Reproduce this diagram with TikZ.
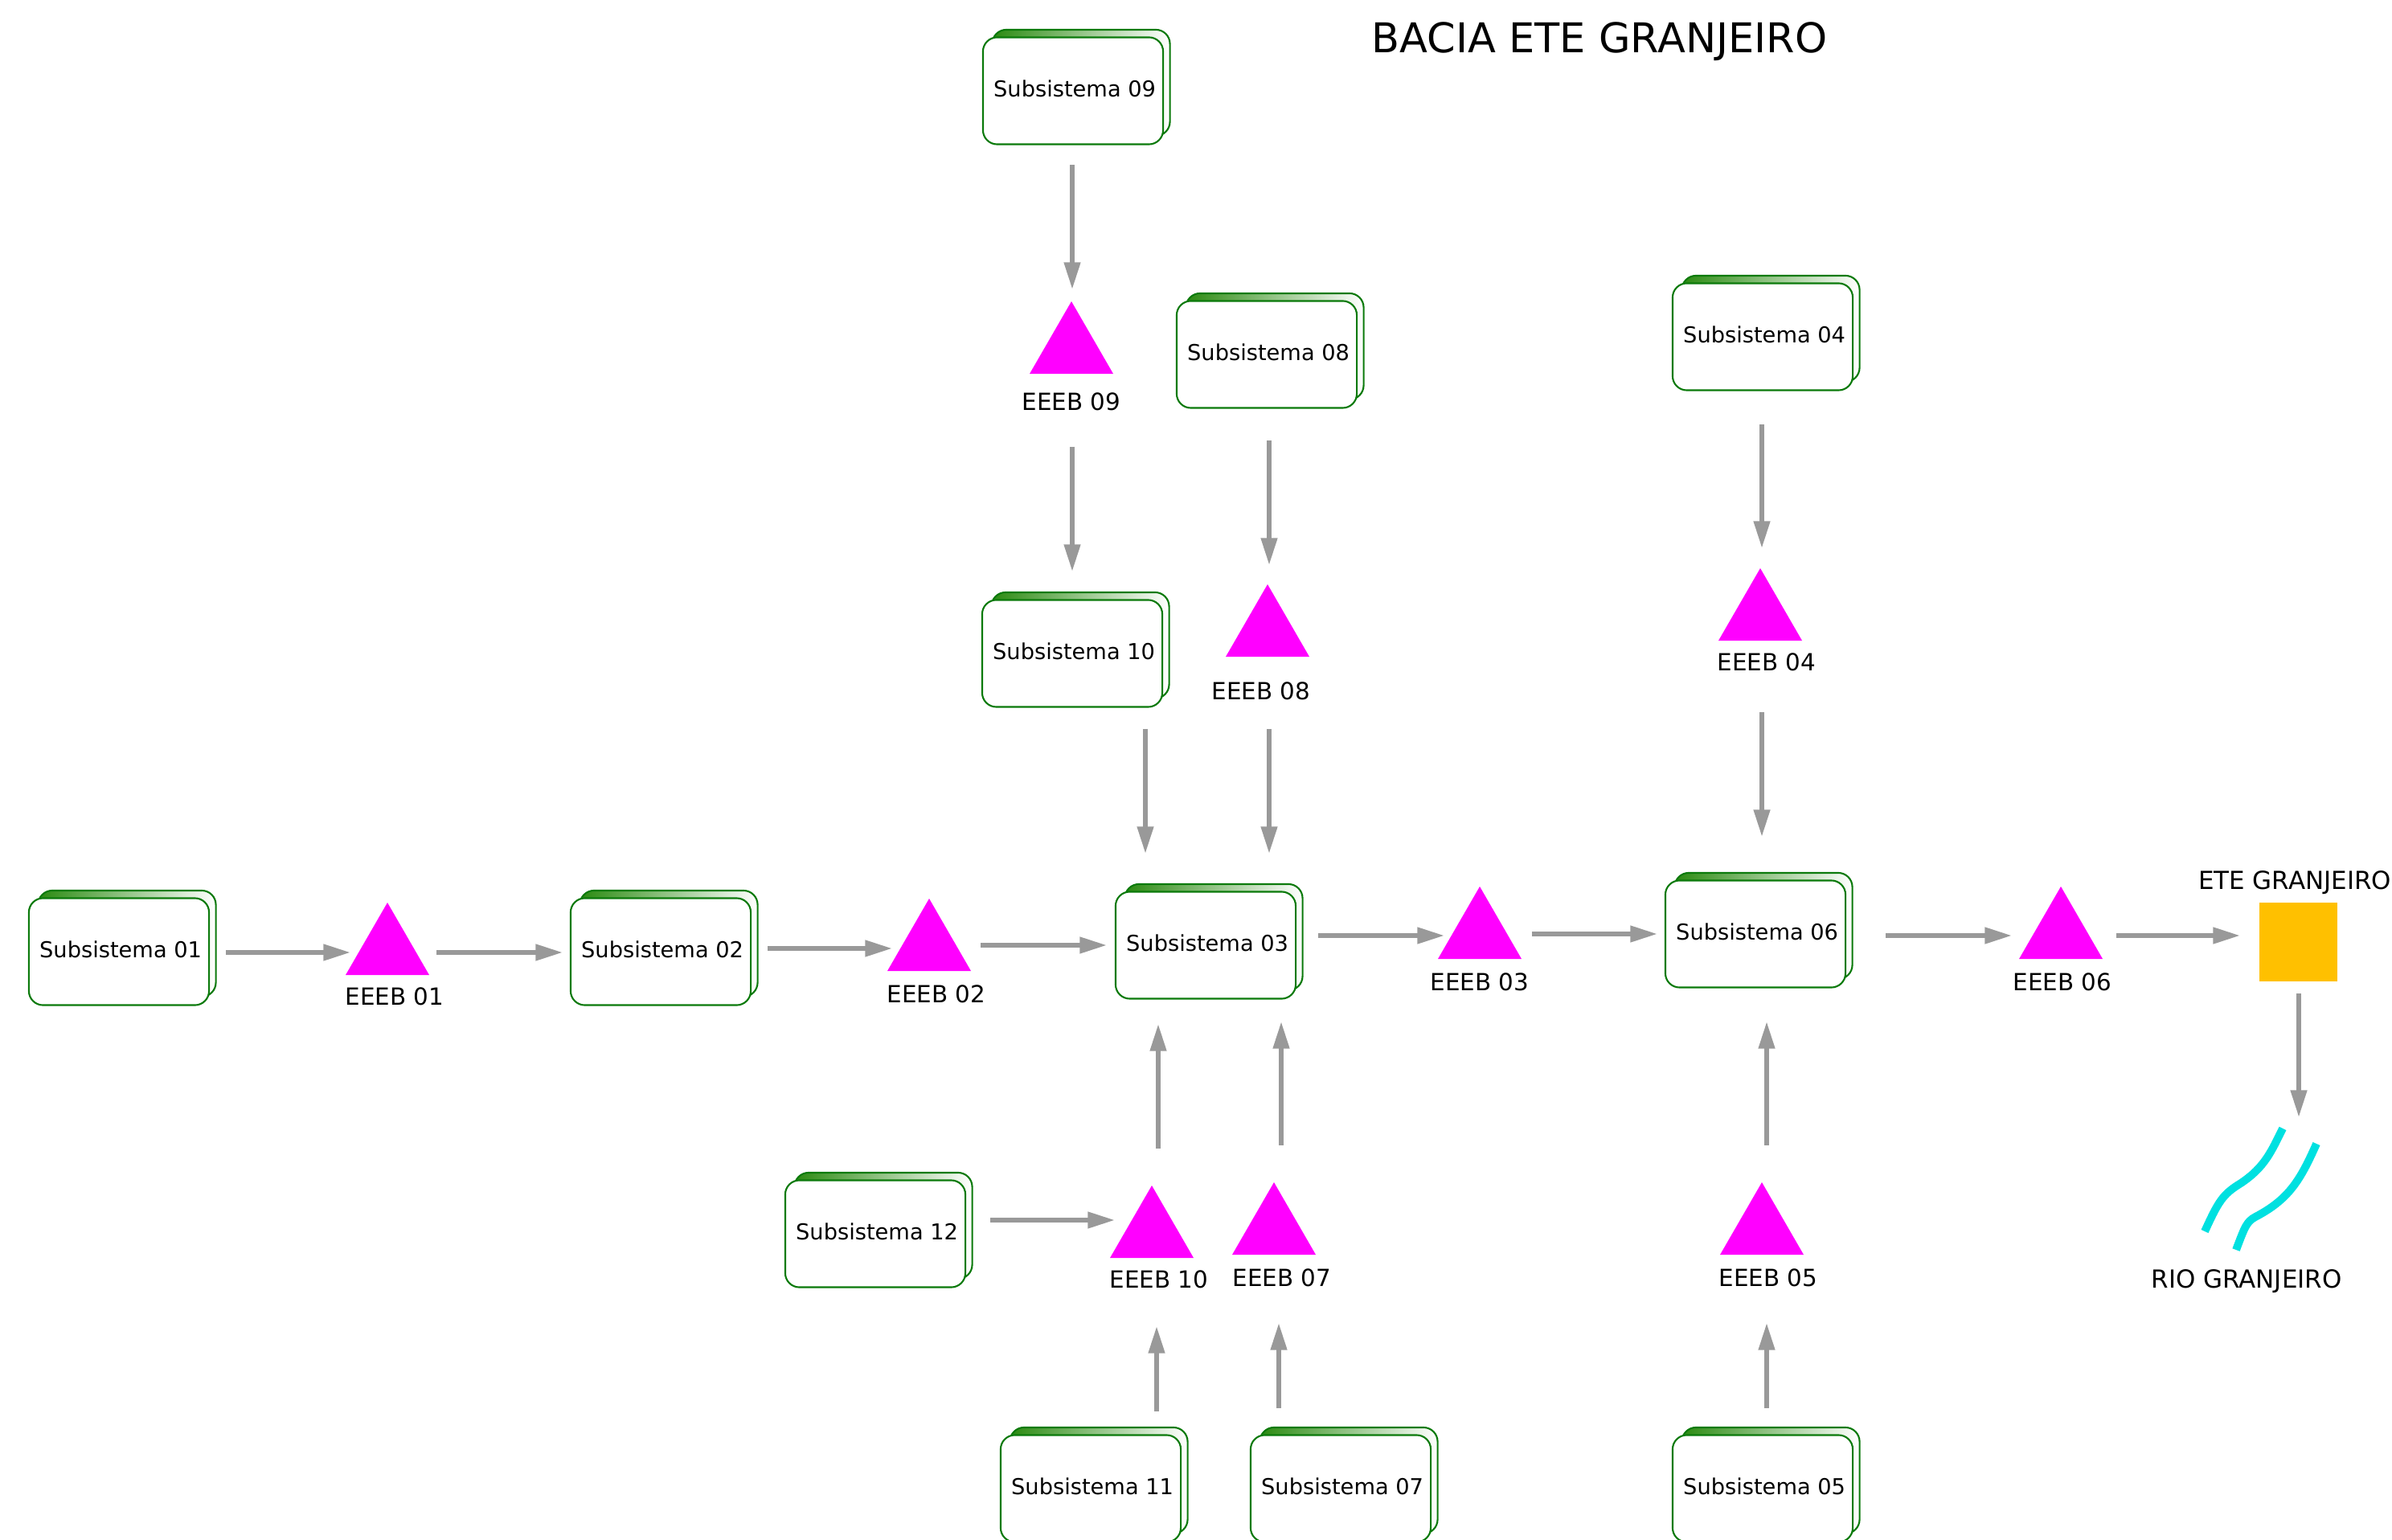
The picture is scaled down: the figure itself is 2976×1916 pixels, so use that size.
\documentclass[tikz,border=0pt]{standalone}
\usepackage{xcolor}
\usepackage{fontspec}
\setmainfont{DejaVu Sans}
\usetikzlibrary{shapes.geometric}
\usetikzlibrary{arrows.meta}

\definecolor{boxgreen}{HTML}{0B7A0B}
\definecolor{bandgreen}{HTML}{2A8A10}
\definecolor{flowgray}{HTML}{999999}
\definecolor{pumppink}{HTML}{FF00FF}
\definecolor{plantyellow}{HTML}{FFC000}
\definecolor{rivercyan}{HTML}{00E0E0}

\tikzset{
  subback/.style={draw=boxgreen, line width=0.6pt, rounded corners=5pt, left color=bandgreen, right color=white, minimum width=2.21cm, minimum height=1.32cm, inner sep=0pt, outer sep=0pt},
  subfront/.style={draw=boxgreen, line width=0.6pt, rounded corners=5pt, fill=white, text=black, font=\fontsize{7.75}{9}\selectfont, execute at begin node=\hspace*{1.2pt}, text depth=1.4pt, minimum width=2.24cm, minimum height=1.33cm, inner sep=0pt, outer sep=0pt},
  pump/.style={regular polygon, regular polygon sides=3, fill=pumppink, minimum size=1.2cm, inner sep=0pt, outer sep=0pt},
  pumplabel/.style={font=\fontsize{8.35}{10}\selectfont, inner sep=0pt},
  placelabel/.style={font=\fontsize{8.8}{10}\selectfont, inner sep=0pt},
  flowline/.style={draw=flowgray, line width=1.5pt, shorten >=-0.8pt, -{Triangle[length=9.5pt,width=5.6pt]}},
  riverline/.style={draw=rivercyan, line width=2.8pt}
}

\begin{document}
\begin{tikzpicture}[x=0.01cm,y=-0.01cm]
    \useasboundingbox (0,0) rectangle (2976,1916);

    \node[font=\fontsize{14.5}{17}\selectfont, inner sep=0pt] (title) at (1990,52) {BACIA ETE GRANJEIRO};

    \node[subback] (sub01b) at (158,1174) {};
    \node[subfront] (sub01) at (148,1184) {Subsistema 01};
    \node[subback] (sub02b) at (832,1174) {};
    \node[subfront] (sub02) at (822,1184) {Subsistema 02};
    \node[subback] (sub03b) at (1510,1166) {};
    \node[subfront] (sub03) at (1500,1176) {Subsistema 03};
    \node[subback] (sub04b) at (2203,409) {};
    \node[subfront] (sub04) at (2193,419) {Subsistema 04};
    \node[subback] (sub05b) at (2203,1842) {};
    \node[subfront] (sub05) at (2193,1852) {Subsistema 05};
    \node[subback] (sub06b) at (2194,1152) {};
    \node[subfront] (sub06) at (2184,1162) {Subsistema 06};
    \node[subback] (sub07b) at (1678,1842) {};
    \node[subfront] (sub07) at (1668,1852) {Subsistema 07};
    \node[subback] (sub08b) at (1586,431) {};
    \node[subfront] (sub08) at (1576,441) {Subsistema 08};
    \node[subback] (sub09b) at (1345,103) {};
    \node[subfront] (sub09) at (1335,113) {Subsistema 09};
    \node[subback] (sub10b) at (1344,803) {};
    \node[subfront] (sub10) at (1334,813) {Subsistema 10};
    \node[subback] (sub11b) at (1367,1842) {};
    \node[subfront] (sub11) at (1357,1852) {Subsistema 11};
    \node[subback] (sub12b) at (1099,1525) {};
    \node[subfront] (sub12) at (1089,1535) {Subsistema 12};

    \node[pump] (eeeb01) at (482,1183) {};
    \node[pump] (eeeb02) at (1156,1178) {};
    \node[pump] (eeeb03) at (1841,1163) {};
    \node[pump] (eeeb04) at (2190,767) {};
    \node[pump] (eeeb05) at (2192,1531) {};
    \node[pump] (eeeb06) at (2564,1163) {};
    \node[pump] (eeeb07) at (1585,1531) {};
    \node[pump] (eeeb08) at (1577,787) {};
    \node[pump] (eeeb09) at (1333,435) {};
    \node[pump] (eeeb10) at (1433,1535) {};

    \node[pumplabel] (lab01) at (491,1240) {EEEB 01};
    \node[pumplabel] (lab02) at (1165,1237) {EEEB 02};
    \node[pumplabel] (lab03) at (1841,1222) {EEEB 03};
    \node[pumplabel] (lab04) at (2198,824) {EEEB 04};
    \node[pumplabel] (lab05) at (2200,1590) {EEEB 05};
    \node[pumplabel] (lab06) at (2566,1222) {EEEB 06};
    \node[pumplabel] (lab07) at (1595,1590) {EEEB 07};
    \node[pumplabel] (lab08) at (1569,860) {EEEB 08};
    \node[pumplabel] (lab09) at (1333,500) {EEEB 09};
    \node[pumplabel] (lab10) at (1442,1592) {EEEB 10};

    \node[fill=plantyellow, minimum size=0.97cm, inner sep=0pt, outer sep=0pt] (ete) at (2859,1172) {};
    \node[placelabel] (etelab) at (2855,1098) {ETE GRANJEIRO};
    \node[placelabel] (riolab) at (2795,1594) {RIO GRANJEIRO};
    \coordinate (rio) at (2860,1387);

    \draw[riverline] (2840,1404) .. controls (2826,1432) and (2818,1452) .. (2788,1472) .. controls (2765,1486) and (2760,1495) .. (2743,1532);
    \draw[riverline] (2882,1423) .. controls (2862,1468) and (2848,1492) .. (2806,1514) .. controls (2795,1520) and (2793,1526) .. (2782,1555);

    \draw[flowline] ([shift={(133,1)}]sub01.center) -- ([shift={(-49,2)}]eeeb01.center);
    \draw[flowline] ([shift={(61,2)}]eeeb01.center) -- ([shift={(-125,1)}]sub02.center);
    \draw[flowline] ([shift={(133,-4)}]sub02.center) -- ([shift={(-49,2)}]eeeb02.center);
    \draw[flowline] ([shift={(64,-2)}]eeeb02.center) -- ([shift={(-126,0)}]sub03.center);
    \draw[flowline] ([shift={(140,-12)}]sub03.center) -- ([shift={(-47,1)}]eeeb03.center);
    \draw[flowline] ([shift={(65,-1)}]eeeb03.center) -- ([shift={(-125,0)}]sub06.center);
    \draw[flowline] ([shift={(162,2)}]sub06.center) -- ([shift={(-64,1)}]eeeb06.center);
    \draw[flowline] ([shift={(69,1)}]eeeb06.center) -- ([shift={(-75,-8)}]ete.center);
    \draw[flowline] ([shift={(1,64)}]ete.center) -- (rio);

    \draw[flowline] ([shift={(-1,92)}]sub09.center) -- ([shift={(1,-78)}]eeeb09.center);
    \draw[flowline] ([shift={(1,121)}]eeeb09.center) -- ([shift={(0,-105)}]sub10.center);
    \draw[flowline] ([shift={(91,94)}]sub10.center) -- ([shift={(-75,-117)}]sub03.center);
    \draw[flowline] ([shift={(3,107)}]sub08.center) -- ([shift={(2,-87)}]eeeb08.center);
    \draw[flowline] ([shift={(2,120)}]eeeb08.center) -- ([shift={(79,-117)}]sub03.center);
    \draw[flowline] ([shift={(-1,109)}]sub04.center) -- ([shift={(2,-88)}]eeeb04.center);
    \draw[flowline] ([shift={(2,119)}]eeeb04.center) -- ([shift={(8,-124)}]sub06.center);

    \draw[flowline] ([shift={(8,-106)}]eeeb10.center) -- ([shift={(-59,101)}]sub03.center);
    \draw[flowline] ([shift={(9,-106)}]eeeb07.center) -- ([shift={(94,98)}]sub03.center);
    \draw[flowline] ([shift={(6,-106)}]eeeb05.center) -- ([shift={(14,112)}]sub06.center);
    \draw[flowline] ([shift={(143,-17)}]sub12.center) -- ([shift={(-49,-17)}]eeeb10.center);
    \draw[flowline] ([shift={(82,-96)}]sub11.center) -- ([shift={(6,118)}]eeeb10.center);
    \draw[flowline] ([shift={(-77,-100)}]sub07.center) -- ([shift={(6,118)}]eeeb07.center);
    \draw[flowline] ([shift={(5,-100)}]sub05.center) -- ([shift={(6,118)}]eeeb05.center);
\end{tikzpicture}
\end{document}
